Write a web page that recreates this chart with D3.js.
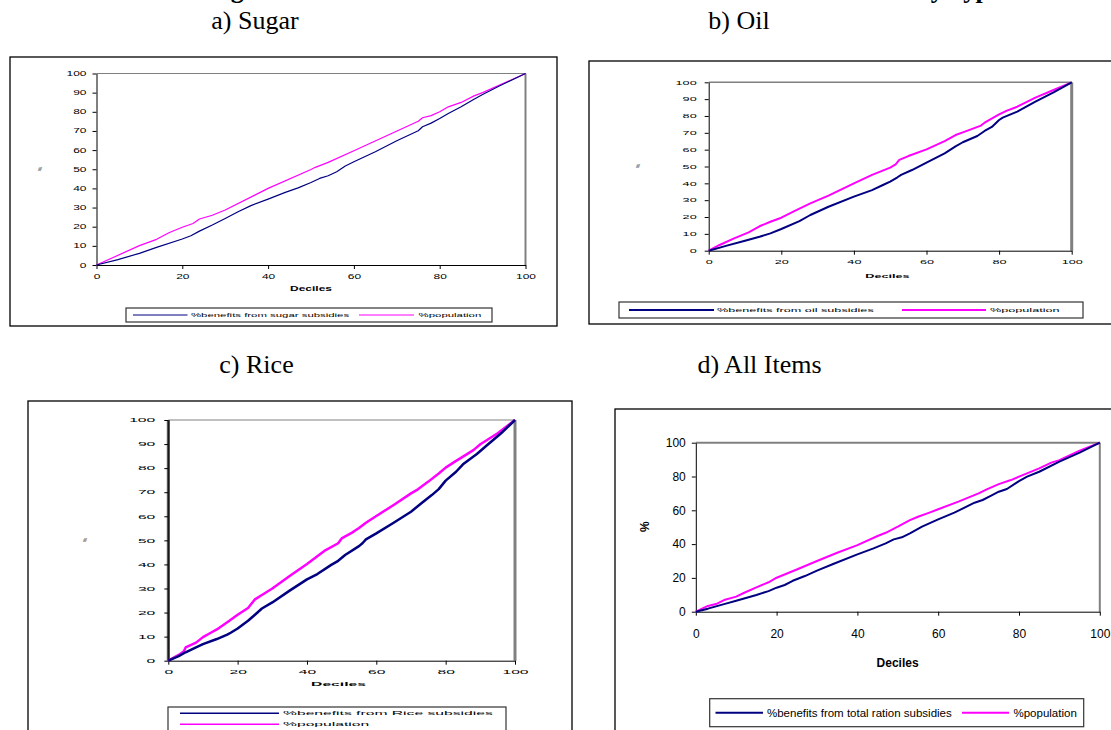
<!DOCTYPE html>
<html>
<head>
<meta charset="utf-8">
<script src="https://cdn.jsdelivr.net/npm/d3@7"></script>
<style>
  html, body { margin: 0; padding: 0; background: #fff; overflow: hidden; }
  svg text { font-family: Arial, "Liberation Sans", sans-serif; }
  .serif { font-family: "Times New Roman", "Liberation Serif", serif !important; }
</style>
</head>
<body>
<svg id="fig" width="1111" height="730"></svg>
<script>
// Concentration curves: [cumulative population percentile, cumulative share %]
const sugarBenefits = [[0,0],[5,2.8],[10,6.1],[14,9.2],[20,13.6],[22,15.3],[24,17.7],[27,20.9],[30,24.3],[33,27.8],[36,31],[40,34.4],[44,37.9],[47,40.3],[50,43.1],[52,45.2],[54,46.6],[56,48.7],[58,51.7],[60,53.9],[65,59.1],[70,64.9],[75,70.1],[76,72.2],[78,74.1],[80,76.5],[82,79.1],[85,82.6],[88,86.6],[90,89],[94,93.6],[100,100]];
const sugarPopulation = [[0,0],[10,10.1],[14,13.4],[17,17],[20,19.7],[22.5,21.7],[24,24],[27,26],[30,28.7],[40,40],[50,49.9],[51,51],[54,53.6],[60,59.7],[75,75.1],[76,76.9],[78,78],[80,80],[82,82.6],[85,84.9],[88,88.3],[90,90],[95,95],[100,100]];

const oilBenefits = [[0,0],[5,3],[10,5.9],[14,8.3],[17,10.3],[20,12.9],[25,17.6],[28,21.2],[33,26.1],[40,32.1],[45,36],[48,39],[50,41],[52,43.6],[53,45],[56,47.9],[60,52.3],[65,57.8],[68,62],[70,64.4],[74,68.1],[76,71.1],[78,73.5],[80,77.6],[81,79],[85,82.6],[90,88.5],[95,94],[100,100]];
const oilPopulation = [[0,0],[3,3.4],[7,7.3],[11,10.9],[14,14.5],[17,17.2],[20,19.6],[24,24],[28,28.1],[33,32.7],[36,35.8],[40,40],[45,45],[50,49.3],[51.5,51.3],[52.5,53.9],[55,56.2],[60,60.2],[65,65.1],[68,68.7],[70,70.3],[75,74.3],[76,76],[80,81],[82,83],[85,85.5],[90,90.9],[95,95.4],[100,100]];

const riceBenefits = [[0,0],[3,1.9],[5,3.5],[8,5.5],[10,6.9],[14,9],[17,10.8],[18,11.6],[20,13.4],[23,16.6],[25,19.1],[27,21.7],[30,24.2],[35,29.1],[40,33.8],[43,36],[47,39.8],[49,41.5],[51,43.9],[55,47.6],[56,48.8],[57,50.4],[60,52.9],[65,57.3],[70,61.9],[73,65.4],[76,68.8],[78,71.3],[80,74.8],[83,78.5],[85,81.6],[89,85.9],[92,89.6],[96,94.5],[100,100]];
const ricePopulation = [[0,0],[3,2.4],[4.5,3.9],[5,5.5],[8,7.5],[10,9.8],[12,11.4],[14,13],[17,16],[20,19.1],[23,21.9],[25,25.5],[27,27.3],[30,30],[35,35.2],[40,40.2],[45,45.6],[49,48.8],[50,50.8],[53,53.2],[55,55.1],[57,57.3],[60,60.1],[65,64.7],[70,69.5],[72,71.2],[75,74.4],[78,77.8],[80,80.2],[83,83],[85,84.8],[88,87.5],[90,89.9],[95,94.5],[100,100]];

const allBenefits = [[0,0],[3,1.8],[7,4.5],[10,6.5],[15,9.9],[18,12.2],[20,14.2],[22,15.8],[24,18.3],[27,21.1],[30,24.3],[34,28.2],[40,33.9],[44,37.5],[47,40.4],[49,42.8],[51,44],[53,46.4],[56,50.3],[60,54.6],[64,58.6],[69,64.5],[71,66.1],[73,68.6],[75,71],[77,72.6],[80,77.3],[82,79.9],[85,82.8],[90,88.8],[95,94.1],[100,100]];
const allPopulation = [[0,0],[3,3.4],[5,4.5],[7,6.9],[10,8.9],[12,11.2],[15,14.4],[18,17.4],[20,20.1],[25,25],[30,30],[35,34.9],[40,39.4],[45,44.8],[47,46.7],[50,50.3],[53,54.2],[55,56.2],[58,58.8],[60,60.6],[65,65.1],[70,70],[72,72.4],[75,75.5],[78,77.9],[80,79.9],[85,84.8],[88,88.2],[90,89.7],[95,95.3],[100,100]];

const xTicks = [0, 20, 40, 60, 80, 100];
const yTicksTen = [0, 10, 20, 30, 40, 50, 60, 70, 80, 90, 100];
const yTicksTwenty = [0, 20, 40, 60, 80, 100];

const panelTitles = ["a) Sugar", "b) Oil", "c) Rice", "d) All Items"];
const sugarLegend = ["%benefits from sugar subsidies", "%population"];
const oilLegend = ["%benefits from oil subsidies", "%population"];
const riceLegend = ["%benefits from Rice subsidies", "%population"];
const allLegend = ["%benefits from total ration subsidies", "%population"];
const xAxisTitle = "Deciles";
const yAxisTitle = "%";
const figureTitle = "Figure 4: Concentration Curves for Benefits from Ration Subsidies by Type";

const NAVY = "#000080", MAGENTA = "#ff00ff";
const svg = d3.select("#fig");

// figure caption, mostly above the page edge
svg.append("text").attr("class", "serif")
  .attr("x", 209).attr("y", -2)
  .attr("textLength", 792).attr("lengthAdjust", "spacing")
  .style("font-size", "26px").style("font-weight", "bold")
  .text(figureTitle);

// panel captions
[[255, 29], [739, 29], [256.5, 373], [759.5, 373]].forEach((p, i) => {
  svg.append("text").attr("class", "serif")
    .attr("x", p[0]).attr("y", p[1]).attr("text-anchor", "middle")
    .style("font-size", "26px").attr("fill", "#000")
    .text(panelTitles[i]);
});

// horizontally stretched text (chart objects scaled in the original document)
function stretchText(parent, x, y, str, o) {
  const g = parent.append("g").attr("transform", `translate(${x},${y}) scale(${o.sx},1)`);
  const t = g.append("text")
    .attr("text-anchor", o.anchor || "start")
    .style("font-size", o.size + "px")
    .style("font-weight", o.bold ? "bold" : "normal")
    .attr("fill", "#000")
    .text(str);
  if (o.dy) t.attr("dy", o.dy);
  return g;
}

function drawPanel(c) {
  const g = svg.append("g");
  // outer chart frame
  g.append("rect").attr("x", c.box[0]).attr("y", c.box[1]).attr("width", c.box[2]).attr("height", c.box[3])
    .attr("fill", "#fff").attr("stroke", "#000").attr("stroke-width", 1.3);

  const x = d3.scaleLinear().domain([0, 100]).range([c.plot[0], c.plot[1]]);
  const y = d3.scaleLinear().domain([0, 100]).range([c.plot[2], c.plot[3]]);

  // plot area frame: top and right edges in grey
  g.append("line").attr("x1", x(0)).attr("x2", x(100)).attr("y1", y(100)).attr("y2", y(100))
    .attr("stroke", "#808080").attr("stroke-width", c.topW);
  g.append("line").attr("x1", x(100)).attr("x2", x(100)).attr("y1", y(100)).attr("y2", y(0))
    .attr("stroke", "#808080").attr("stroke-width", c.rightW);
  if (c.leftW) {
    g.append("line").attr("x1", x(0)).attr("x2", x(0)).attr("y1", y(100)).attr("y2", y(0))
      .attr("stroke", "#555").attr("stroke-width", c.leftW);
  }

  // axes
  const yAxis = d3.axisLeft(y).tickValues(c.yTicks).tickSize(4).tickSizeOuter(0).tickPadding(c.yPad);
  const xAxis = d3.axisBottom(x).tickValues(xTicks).tickSize(4).tickSizeOuter(0).tickPadding(c.xPad);
  const ya = g.append("g").attr("transform", `translate(${x(0)},0)`).call(yAxis);
  const xa = g.append("g").attr("transform", `translate(0,${y(0)})`).call(xAxis);
  [ya, xa].forEach(a => {
    a.select(".domain").attr("stroke", "#000");
    a.selectAll(".tick line").attr("stroke", "#000");
    a.selectAll("text").style("font-size", c.tickSize + "px").attr("fill", "#000")
      .style("font-family", "Arial, 'Liberation Sans', sans-serif");
  });
  ya.selectAll("text").attr("transform", `scale(${c.sx},1)`).attr("x", -(4 + c.yPad) / c.sx);
  xa.selectAll("text").attr("transform", `scale(${c.sx},1)`);

  // series
  const line = d3.line().x(d => x(d[0])).y(d => y(d[1]));
  g.append("path").datum(c.pop).attr("d", line).attr("fill", "none")
    .attr("stroke", MAGENTA).attr("stroke-width", c.lineW).attr("stroke-linejoin", "round");
  g.append("path").datum(c.ben).attr("d", line).attr("fill", "none")
    .attr("stroke", NAVY).attr("stroke-width", c.lineW).attr("stroke-linejoin", "round");

  // axis titles
  stretchText(g, c.decX, c.decY, xAxisTitle, { sx: c.sx, size: c.titleSize, bold: true, anchor: "middle" });
  g.append("text").attr("transform", `translate(${c.pctX},${c.pctY}) rotate(-90)`)
    .attr("text-anchor", "middle").style("font-size", c.pctSize + "px")
    .style("font-weight", c.pctBold ? "bold" : "normal").attr("fill", "#000").text(yAxisTitle);

  // legend
  const L = c.legend;
  g.append("rect").attr("x", L.box[0]).attr("y", L.box[1]).attr("width", L.box[2]).attr("height", L.box[3])
    .attr("fill", "#fff").attr("stroke", "#333").attr("stroke-width", 1.2);
  L.items.forEach((it, i) => {
    g.append("line").attr("x1", it[0]).attr("x2", it[1]).attr("y1", it[3]).attr("y2", it[3])
      .attr("stroke", i === 0 ? NAVY : MAGENTA).attr("stroke-width", L.lineW);
    stretchText(g, it[2], it[3], c.legendText[i], { sx: c.sx, size: c.legSize, anchor: "start", dy: "0.35em" });
  });
}

drawPanel({
  box: [10, 57, 547, 269], plot: [96.5, 525.5, 265, 73.5],
  ben: sugarBenefits, pop: sugarPopulation, legendText: sugarLegend,
  yTicks: yTicksTen, sx: 1.9, tickSize: 6.3, yPad: 6, xPad: 6, titleSize: 6.3,
  topW: 1, rightW: 2, leftW: 0, lineW: 1.2,
  decX: 311, decY: 291, pctX: 42, pctY: 169, pctSize: 5, pctBold: false,
  legSize: 6,
  legend: { box: [126, 308, 366, 14], lineW: 1.2,
    items: [[133, 187.5, 191, 315], [359, 414, 418.6, 315]] }
});

drawPanel({
  box: [589, 61, 560, 263], plot: [708.7, 1071.7, 250.7, 82.3],
  ben: oilBenefits, pop: oilPopulation, legendText: oilLegend,
  yTicks: yTicksTen, sx: 2.3, tickSize: 5.5, yPad: 8, xPad: 5, titleSize: 5.5,
  topW: 1.5, rightW: 3, leftW: 0, lineW: 2,
  decX: 887.5, decY: 278, pctX: 640, pctY: 166, pctSize: 5, pctBold: false,
  legSize: 5.5,
  legend: { box: [619, 302, 464, 16], lineW: 2,
    items: [[629, 714, 717, 310], [902, 986, 990, 310]] }
});

drawPanel({
  box: [28, 401, 544, 400], plot: [168.3, 515, 660.7, 420],
  ben: riceBenefits, pop: ricePopulation, legendText: riceLegend,
  yTicks: yTicksTen, sx: 2.85, tickSize: 5.5, yPad: 9, xPad: 5, titleSize: 5.5,
  topW: 1, rightW: 3, leftW: 3, lineW: 2.5,
  decX: 338.5, decY: 685.5, pctX: 87, pctY: 540, pctSize: 5, pctBold: false,
  legSize: 5.5,
  legend: { box: [168, 707, 338, 60], lineW: 1.5,
    items: [[180, 279, 283, 713.3], [180, 279, 283, 724.3]] }
});

drawPanel({
  box: [615, 409, 600, 400], plot: [695.8, 1099.8, 611.7, 442.7],
  ben: allBenefits, pop: allPopulation, legendText: allLegend,
  yTicks: yTicksTwenty, sx: 1, tickSize: 12, yPad: 6, xPad: 14, titleSize: 12,
  topW: 2, rightW: 2, leftW: 0, lineW: 2,
  decX: 897.6, decY: 667, pctX: 649, pctY: 526.7, pctSize: 12, pctBold: true,
  legSize: 11.5,
  legend: { box: [709.7, 698.7, 374, 28], lineW: 2,
    items: [[715.5, 763, 767, 712.7], [962, 1009, 1013.5, 712.7]] }
});
</script>
</body>
</html>
